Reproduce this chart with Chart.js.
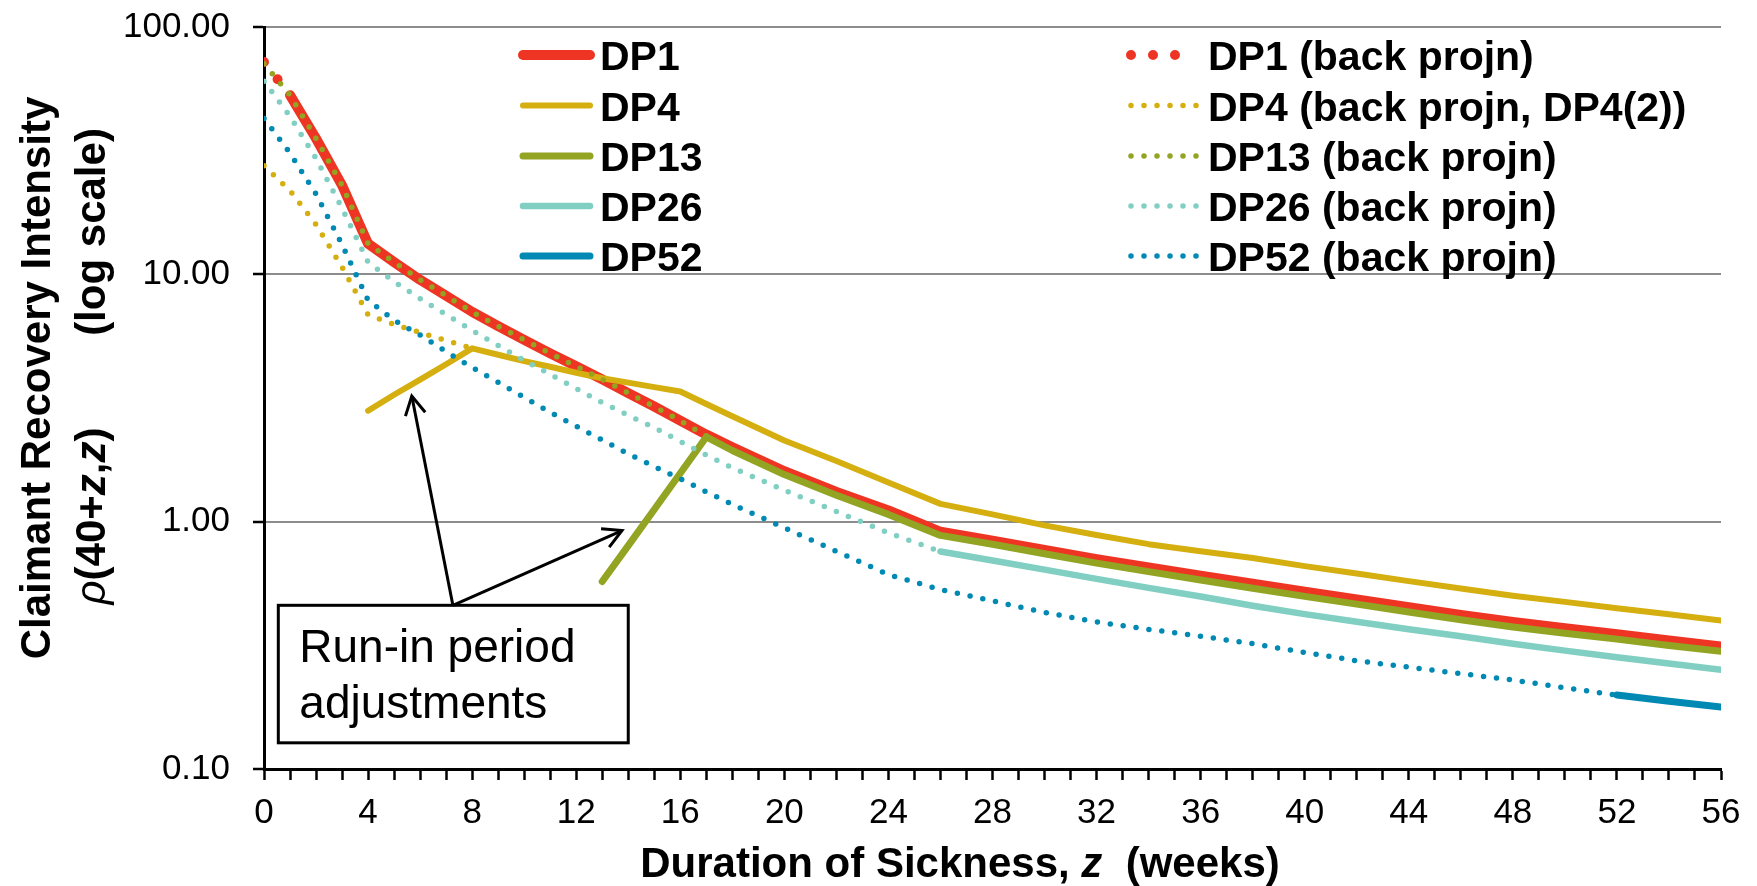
<!DOCTYPE html>
<html>
<head>
<meta charset="utf-8">
<title>Claimant Recovery Intensity by Deferred Period</title>
<script src="https://cdn.jsdelivr.net/npm/chart.js@4.4.1/dist/chart.umd.min.js"></script>
<style>
  html, body { margin: 0; padding: 0; background: #ffffff; }
  canvas { display: block; }
</style>
</head>
<body>
<canvas id="chart" width="1757" height="886"></canvas>
<script>
const FONT = "'Liberation Sans', Arial, Helvetica, sans-serif";

// Duration of sickness z (weeks) at which the intensities are tabulated
const weeks = [0,1,2,3,4,5,6,7,8,9,10,11,12,13,14,15,16,17,18,20,22,24,26,28,30,32,34,36,38,40,42,44,46,48,50,52,54,56];

// Fitted recovery intensities rho(40+z, z), one value per entry of `weeks`
const dp1  = [null,53.0,35.4,22.9,13.3,11.2,9.5,8.2,7.05,6.17,5.43,4.79,4.25,3.76,3.31,2.92,2.56,2.25,2.0,1.60,1.32,1.11,0.91,0.838,0.769,0.706,0.653,0.605,0.561,0.521,0.485,0.451,0.420,0.393,0.371,0.351,0.331,0.313];
const dp4  = [null,null,null,null,2.81,3.26,3.75,4.33,5.02,4.73,4.46,4.23,4.0,3.80,3.65,3.50,3.36,2.99,2.67,2.13,1.76,1.44,1.18,1.07,0.966,0.883,0.811,0.759,0.713,0.661,0.617,0.575,0.537,0.502,0.474,0.447,0.422,0.398];
const dp13 = [null,null,null,null,null,null,null,null,null,null,null,null,null,0.573,0.80,1.12,1.57,2.20,1.94,1.55,1.28,1.07,0.88,0.81,0.742,0.680,0.628,0.581,0.538,0.499,0.464,0.431,0.401,0.375,0.354,0.335,0.316,0.299];
const dp26 = [null,null,null,null,null,null,null,null,null,null,null,null,null,null,null,null,null,null,null,null,null,null,0.758,0.697,0.640,0.587,0.540,0.498,0.457,0.423,0.394,0.367,0.344,0.321,0.301,0.283,0.267,0.252];
const dp52 = [null,null,null,null,null,null,null,null,null,null,null,null,null,null,null,null,null,null,null,null,null,null,null,null,null,null,null,null,null,null,null,null,null,null,null,0.199,0.188,0.178];

// Back projections into the run-in periods
const dp1Back  = [72.2,53.0,null,null,null,null,null,null,null,null,null,null,null,null,null,null,null,null,null,null,null,null,null,null,null,null,null,null,null,null,null,null,null,null,null,null,null,null];
const dp4Back  = [27.5,21.8,15.9,10.7,6.87,6.27,5.82,5.40,5.02,null,null,null,null,null,null,null,null,null,null,null,null,null,null,null,null,null,null,null,null,null,null,null,null,null,null,null,null,null];
const dp13Back = [71.0,53.0,35.4,22.9,13.3,11.2,9.5,8.2,7.05,6.17,5.43,4.79,4.25,3.76,3.31,2.92,2.56,2.22,null,null,null,null,null,null,null,null,null,null,null,null,null,null,null,null,null,null,null,null];
const dp26Back = [60.4,43.5,29.4,18.5,11.2,9.33,7.98,6.87,5.93,5.15,4.49,3.94,3.45,3.03,2.69,2.40,2.11,1.86,1.65,1.34,1.10,0.90,0.758,null,null,null,null,null,null,null,null,null,null,null,null,null,null,null];
const dp52Back = [42.7,30.9,21.1,13.2,7.85,6.53,5.68,4.87,4.20,3.66,3.18,2.77,2.43,2.14,1.88,1.67,1.49,1.32,1.175,0.944,0.759,0.611,0.531,0.478,0.430,0.393,0.367,0.344,0.321,0.296,0.274,0.258,0.243,0.229,0.213,0.199,null,null];

// Axis tick values / labels
const yTicks = [0.1, 1, 10, 100];
const xTickLabels = [0,4,8,12,16,20,24,28,32,36,40,44,48,52,56];

const seriesNames = [
  'DP1', 'DP4', 'DP13', 'DP26', 'DP52',
  'DP1 (back projn)', 'DP4 (back projn, DP4(2))', 'DP13 (back projn)', 'DP26 (back projn)', 'DP52 (back projn)'
];
const seriesValues = [dp1, dp4, dp13, dp26, dp52, dp1Back, dp4Back, dp13Back, dp26Back, dp52Back];

// Styling
const RED = '#EE3524', GOLD = '#D4AF0F', OLIVE = '#93A423', TEAL = '#80CFC2', BLUE = '#0089B3';
const seriesColors = [RED, GOLD, OLIVE, TEAL, BLUE, RED, GOLD, OLIVE, TEAL, BLUE];
const seriesWidths = [10, 6, 7, 6.5, 7, 10, 5.5, 5.5, 5.5, 5.5];
const seriesDash = [[], [], [], [], [], [0, 22], [0, 13], [0, 13], [0, 13], [0, 13]];

const datasets = seriesValues.map((vals, i) => ({
  label: seriesNames[i],
  data: weeks.map((w, k) => ({ x: w, y: vals[k] })).filter(p => p.y !== null),
  borderColor: seriesColors[i],
  backgroundColor: seriesColors[i],
  borderWidth: seriesWidths[i],
  borderDash: seriesDash[i],
  borderCapStyle: 'round',
  borderJoinStyle: 'round',
  pointRadius: 0,
  pointHoverRadius: 0,
  tension: 0,
  fill: false,
  order: -i            // later series are painted over earlier ones
}));

// Legend placement (two columns inside the plot)
const legendLayout = {
  rowY: [55, 105.5, 156, 206, 256],
  columns: [
    { x0: 523, x1: 590, textX: 600 },
    { x0: 1131, x1: 1197, textX: 1208 }
  ],
  font: 'bold 41px ' + FONT
};

// Callout anchored in data coordinates (weeks, intensity)
const note = {
  box: { w0: 0.55, w1: 14.0, top: 0.459, bottom: 0.1276 },
  origin: 7.26,
  tips: [ { w: 5.68, v: 3.22 }, { w: 13.76, v: 0.921 } ],
  lines: ['Run-in period', 'adjustments'],
  font: '46px ' + FONT
};

function drawRuns(ctx, runs, x, y) {
  let total = 0;
  const widths = runs.map(r => { ctx.font = r.font; const w = ctx.measureText(r.text).width; total += w; return w; });
  let cx = x - total / 2;
  ctx.textAlign = 'left';
  ctx.textBaseline = 'alphabetic';
  runs.forEach((r, i) => { ctx.font = r.font; ctx.fillText(r.text, cx, y); cx += widths[i]; });
}

function drawArrow(ctx, x0, y0, x1, y1) {
  ctx.beginPath();
  ctx.moveTo(x0, y0);
  ctx.lineTo(x1, y1);
  ctx.stroke();
  const ang = Math.atan2(y0 - y1, x0 - x1);
  const len = 21, spread = 0.5;
  ctx.beginPath();
  ctx.moveTo(x1 + len * Math.cos(ang - spread), y1 + len * Math.sin(ang - spread));
  ctx.lineTo(x1, y1);
  ctx.lineTo(x1 + len * Math.cos(ang + spread), y1 + len * Math.sin(ang + spread));
  ctx.stroke();
}

const decorations = {
  id: 'decorations',
  afterDraw(chart) {
    const ctx = chart.ctx;
    const xs = chart.scales.x, ys = chart.scales.y;
    ctx.save();

    // Legend
    chart.data.datasets.forEach((ds, i) => {
      const col = legendLayout.columns[i < 5 ? 0 : 1];
      const y = legendLayout.rowY[i % 5];
      ctx.save();
      ctx.strokeStyle = ds.borderColor;
      ctx.lineWidth = ds.borderWidth;
      ctx.lineCap = 'round';
      ctx.setLineDash(ds.borderDash || []);
      ctx.beginPath();
      ctx.moveTo(col.x0, y);
      ctx.lineTo(col.x1, y);
      ctx.stroke();
      ctx.restore();
      ctx.fillStyle = '#000';
      ctx.font = legendLayout.font;
      ctx.textAlign = 'left';
      ctx.textBaseline = 'alphabetic';
      ctx.fillText(ds.label, col.textX, y + 15);
    });

    // Axis titles
    const B = 'bold 42px ' + FONT, BI = 'italic bold 42px ' + FONT, I = 'italic 42px ' + FONT;
    ctx.fillStyle = '#000';
    drawRuns(ctx, [{ text: 'Duration of Sickness, ', font: B }, { text: 'z', font: BI }, { text: '  (weeks)', font: B }], 960, 877);

    const rotated = (cx, cy, runs) => {
      ctx.save();
      ctx.translate(cx, cy);
      ctx.rotate(-Math.PI / 2);
      drawRuns(ctx, runs, 0, 15);
      ctx.restore();
    };
    rotated(35, 378, [{ text: 'Claimant Recovery Intensity', font: B }]);
    rotated(90, 232, [{ text: '(log scale)', font: B }]);
    rotated(90, 516, [
      { text: '\u03C1', font: I }, { text: '(40+', font: B }, { text: 'z', font: BI },
      { text: ',', font: B }, { text: 'z', font: BI }, { text: ')', font: B }
    ]);

    // Callout box with arrows
    const bx0 = xs.getPixelForValue(note.box.w0), bx1 = xs.getPixelForValue(note.box.w1);
    const by0 = ys.getPixelForValue(note.box.top), by1 = ys.getPixelForValue(note.box.bottom);
    ctx.fillStyle = '#fff';
    ctx.fillRect(bx0, by0, bx1 - bx0, by1 - by0);
    ctx.strokeStyle = '#000';
    ctx.lineWidth = 3;
    ctx.setLineDash([]);
    ctx.strokeRect(bx0, by0, bx1 - bx0, by1 - by0);
    ctx.fillStyle = '#000';
    ctx.font = note.font;
    ctx.textAlign = 'left';
    ctx.textBaseline = 'alphabetic';
    ctx.fillText(note.lines[0], bx0 + 21, by0 + 57);
    ctx.fillText(note.lines[1], bx0 + 21, by0 + 113);

    const ox = xs.getPixelForValue(note.origin);
    ctx.lineWidth = 3;
    ctx.lineCap = 'butt';
    ctx.lineJoin = 'miter';
    note.tips.forEach(t => drawArrow(ctx, ox, by0, xs.getPixelForValue(t.w), ys.getPixelForValue(t.v)));

    ctx.restore();
  }
};

new Chart(document.getElementById('chart'), {
  type: 'line',
  data: { datasets },
  options: {
    responsive: false,
    animation: false,
    devicePixelRatio: 1,
    events: [],
    layout: { padding: { top: 27, right: 36, left: 0, bottom: 0 } },
    plugins: {
      legend: { display: false },
      tooltip: { enabled: false },
      title: { display: false }
    },
    scales: {
      x: {
        type: 'linear',
        min: 0,
        max: 56,
        afterFit: s => { s.height = 117; s.paddingLeft = 0; s.paddingRight = 0; },
        border: { color: '#000', width: 3 },
        grid: { drawOnChartArea: false, drawTicks: true, tickLength: 11, tickWidth: 2.5, tickColor: '#000' },
        ticks: {
          stepSize: 1,
          autoSkip: false,
          maxRotation: 0,
          minRotation: 0,
          padding: 12,
          color: '#000',
          font: { family: FONT, size: 35 },
          callback: v => (xTickLabels.includes(v) ? String(v) : '')
        }
      },
      y: {
        type: 'logarithmic',
        min: 0.1,
        max: 100,
        afterFit: s => { s.width = 264; s.paddingTop = 0; s.paddingBottom = 0; },
        afterBuildTicks: s => { s.ticks = yTicks.map(v => ({ value: v })); },
        border: { color: '#000', width: 3 },
        grid: {
          color: c => (c.tick && c.tick.value === yTicks[0] ? 'rgba(0,0,0,0)' : '#8C8C8C'),
          lineWidth: 2,
          tickLength: 11,
          tickWidth: 2.5,
          tickColor: '#000'
        },
        ticks: {
          autoSkip: false,
          padding: 23,
          color: '#000',
          font: { family: FONT, size: 35 },
          callback: v => Number(v).toFixed(2)
        }
      }
    }
  },
  plugins: [decorations]
});
</script>
</body>
</html>
